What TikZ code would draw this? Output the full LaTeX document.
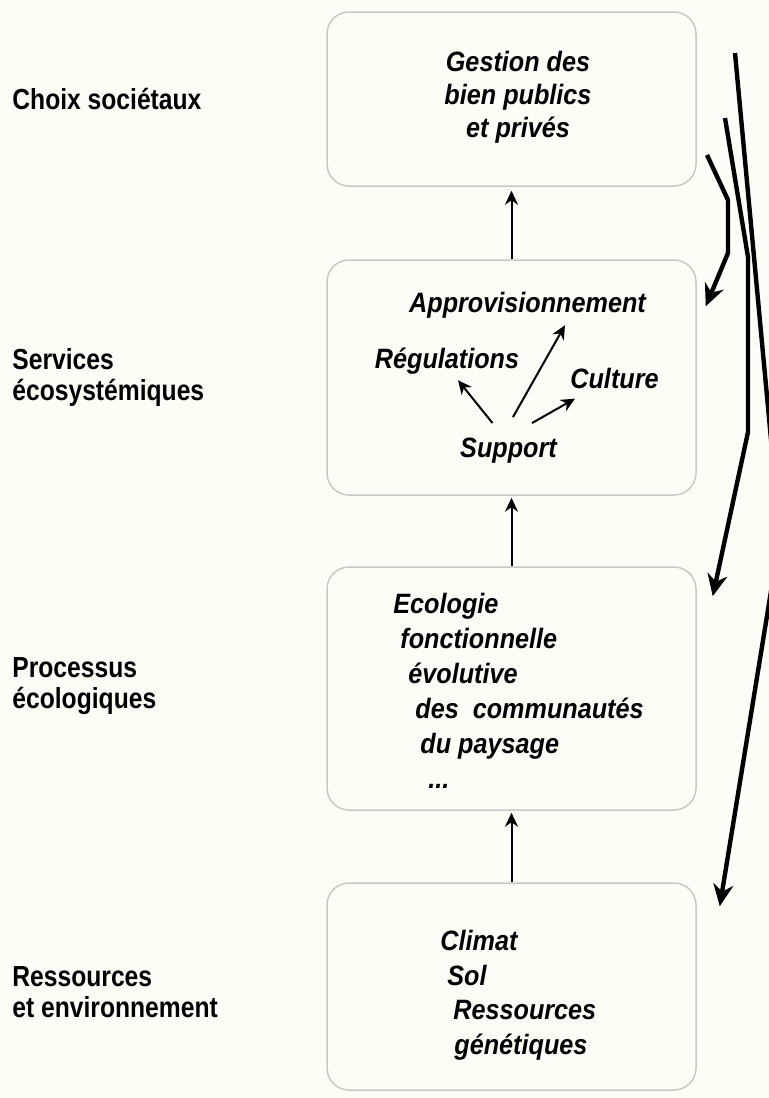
\documentclass[tikz,border=0pt]{standalone}
\usepackage{fontspec}
\setmainfont{Liberation Sans}
\newfontfamily\labelfont[FakeStretch=0.85]{Liberation Sans}
\newfontfamily\boxfont[FakeStretch=0.9]{Liberation Sans}
\usetikzlibrary{arrows.meta,calc}
\definecolor{papier}{RGB}{253,253,248}
\definecolor{bord}{RGB}{200,200,200}

\begin{document}
\begin{tikzpicture}[
		x=0.5pt, y=-0.5pt,
		niveau/.style={font=\labelfont\bfseries\fontsize{14.5}{15.75}\selectfont, align=left, anchor=north west, inner sep=0pt},
		cadre/.style={draw=bord, line width=0.75pt, rounded corners=11pt, fill=papier, minimum width=184.5pt},
		texte/.style={font=\boxfont\bfseries\itshape\fontsize{14}{#1}\selectfont, inner sep=0pt},
		texte/.default=17,
		fleche/.style={line width=1pt, -{Stealth[length=7pt,width=6.5pt]}},
		retour/.style={line width=2.2pt, -{Stealth[length=11pt,width=10pt]}}
		]
		\path[use as bounding box, fill=papier] (0,0) rectangle (769,1098);
		
		\node[cadre, minimum height=87pt] (b1) at (511.5,99) {};
		\node[cadre, minimum height=117.5pt] (b2) at (511.5,377.5) {};
		\node[cadre, minimum height=121.5pt] (b3) at (511.5,688.5) {};
		\node[cadre, minimum height=103.5pt] (b4) at (511.5,986.5) {};
		
		\node[niveau] (choix) at (12,88) {Choix sociétaux};
		\node[niveau] (serv) at (12,348) {Services\\écosystémiques};
		\node[niveau] (procl) at (12,657) {Processus\\écologiques};
		\node[niveau] (ressl) at (12,966) {Ressources\\et environnement};
		
		\node[texte=16.5, align=center, anchor=north] (gest) at (518,51) {Gestion des\\bien publics\\et privés};
		
		\node[texte, anchor=base] (appro) at (527.5,312) {Approvisionnement};
		\node[texte, anchor=base] (regul) at (447,368) {Régulations};
		\node[texte, anchor=base] (cult) at (614.5,388) {Culture};
		\node[texte, anchor=base] (supp) at (508.5,457) {Support};
		\draw[fleche] ($(supp.north)+(-16,-14)$) -- ($(regul.south)+(11,6)$);
		\draw[fleche] ($(supp.north)+(4.5,-20)$) -- ($(appro.south)+(37.5,7)$);
		\draw[fleche] ($(supp.north)+(23.5,-14)$) -- ($(cult.south west)+(5,10)$);
		
		\node[texte=17.5, align=left, anchor=north west] (eco) at (393,593) {Ecologie\\
			\hspace*{3.5pt}fonctionnelle\\
			\hspace*{7.5pt}évolutive\\
			\hspace*{11pt}des~~communautés\\
			\hspace*{13.5pt}du paysage\\
			\hspace*{17.5pt}...};
		
		\node[texte=17.3, align=left, anchor=north west] (clim) at (440,930) {Climat\\
			\hspace*{3.5pt}Sol\\
			\hspace*{6.5pt}Ressources\\
			\hspace*{7pt}génétiques};
		
		\draw[fleche, shorten >=2pt] (b2.north) -- (b1.south);
		\draw[fleche, shorten >=1pt] (b3.north) -- (b2.south);
		\draw[fleche, shorten >=1pt] (b4.north) -- (b3.south);
		
		\coordinate (depA) at (707,155);
		\coordinate (depB) at (725,118);
		\coordinate (depC) at (735,53);
		\draw[retour] (depA) -- (728,200) -- (728,253) -- ($(b2.north east)+(9,47)$);
		\draw[retour] (depB) -- (748,257) -- (748,432) -- ($(b3.north east)+(16,30)$);
		\draw[retour] (depC) -- (780,536) -- ($(b4.north east)+(23,24)$);
\end{tikzpicture}
\end{document}
